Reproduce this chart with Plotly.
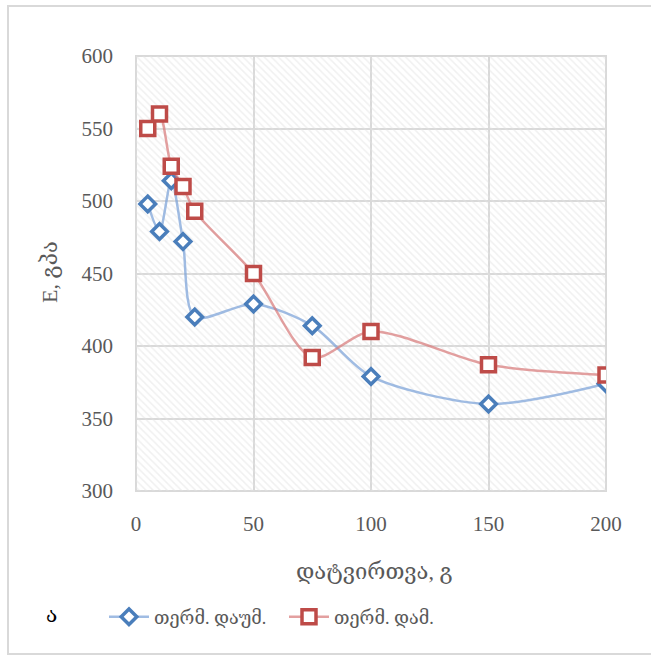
import plotly.graph_objects as go

# Load (g) and modulus E (GPa) for the two treatment series
load = [5, 10, 15, 20, 25, 50, 75, 100, 150, 200]
e_undeformed = [498, 479, 514, 472, 420, 429, 414, 379, 360, 374]
e_deformed = [550, 560, 524, 510, 493, 450, 392, 410, 387, 380]

series_names = ["თერმ. დაუმ.", "თერმ. დამ."]
x_title = "დატვირთვა, გ"
y_title = "E, გპა"
panel_label = "ა"

x_range = [0, 200]
y_range = [300, 600]
x_ticks = [0, 50, 100, 150, 200]
y_ticks = [300, 350, 400, 450, 500, 550, 600]

W, H = 651, 658
L, R, T, B = 136, 45, 56, 167
pw, ph = W - L - R, H - T - B

def px_x(p):
    return (p - L) / pw

def px_y(p):
    return (H - B - p) / ph

serif = "Liberation Serif, DejaVu Serif, serif"
gray_txt = "#595959"
grid = "#d9d9d9"

fig = go.Figure()

# hatched plot-area background
fig.add_trace(go.Scatter(
    x=[x_range[0], x_range[1], x_range[1], x_range[0], x_range[0]],
    y=[y_range[0], y_range[0], y_range[1], y_range[1], y_range[0]],
    mode="lines", line=dict(width=0), fill="toself",
    fillcolor="rgba(0,0,0,0)",
    fillpattern=dict(shape="\\", fgcolor="#e2e2e2", bgcolor="rgba(0,0,0,0)",
                     size=5, solidity=0.3),
    hoverinfo="skip", showlegend=False,
))

fig.add_trace(go.Scatter(
    x=load, y=e_undeformed, name=series_names[0],
    mode="lines+markers",
    line=dict(color="rgba(120,160,215,0.7)", width=2.5, shape="spline", smoothing=0.8),
    marker=dict(symbol="diamond", size=12, color="white",
                line=dict(color="#4a7ebb", width=3.5)),
))
fig.add_trace(go.Scatter(
    x=load, y=e_deformed, name=series_names[1],
    mode="lines+markers",
    line=dict(color="rgba(215,120,120,0.7)", width=2.5, shape="spline", smoothing=0.8),
    marker=dict(symbol="square", size=14, color="white",
                line=dict(color="#be4b48", width=3.5)),
))

axis_common = dict(
    showgrid=True, gridcolor=grid, gridwidth=2,
    zeroline=False, showline=False, ticks="",
    tickfont=dict(family=serif, size=21, color=gray_txt),
)

fig.update_xaxes(range=x_range, tickvals=x_ticks, ticklabelstandoff=18, **axis_common)
fig.update_yaxes(range=y_range, tickvals=y_ticks, ticklabelstandoff=22, **axis_common)

fig.update_layout(
    width=W, height=H,
    margin=dict(l=L, r=R, t=T, b=B),
    paper_bgcolor="white", plot_bgcolor="white",
    showlegend=True,
    legend=dict(orientation="h", x=px_x(104), y=px_y(617), xanchor="left", yanchor="middle",
                font=dict(family=serif, size=18, color=gray_txt),
                itemwidth=40, entrywidth=125, entrywidthmode="pixels",
                tracegroupgap=0, bgcolor="rgba(0,0,0,0)"),
    annotations=[
        dict(text=x_title, xref="paper", yref="paper", x=px_x(374), y=px_y(571),
             showarrow=False, font=dict(family=serif, size=22, color=gray_txt),
             xanchor="center", yanchor="middle"),
        dict(text=y_title, xref="paper", yref="paper", x=px_x(49), y=px_y(272),
             showarrow=False, textangle=-90, font=dict(family=serif, size=22, color=gray_txt),
             xanchor="center", yanchor="middle"),
        dict(text=panel_label, xref="paper", yref="paper", x=px_x(51), y=px_y(615),
             showarrow=False, font=dict(family=serif, size=21, color="black"),
             xanchor="center", yanchor="middle"),
    ],
    shapes=[
        dict(type="rect", xref="paper", yref="paper",
             x0=px_x(8), x1=px_x(655), y0=px_y(654), y1=px_y(6),
             line=dict(color="#d9d9d9", width=2), fillcolor="rgba(0,0,0,0)", layer="below"),
        dict(type="rect", xref="paper", yref="paper", x0=0, x1=1, y0=0, y1=1,
             line=dict(color=grid, width=2), fillcolor="rgba(0,0,0,0)", layer="below"),
    ],
)

fig.write_html("out.html")
